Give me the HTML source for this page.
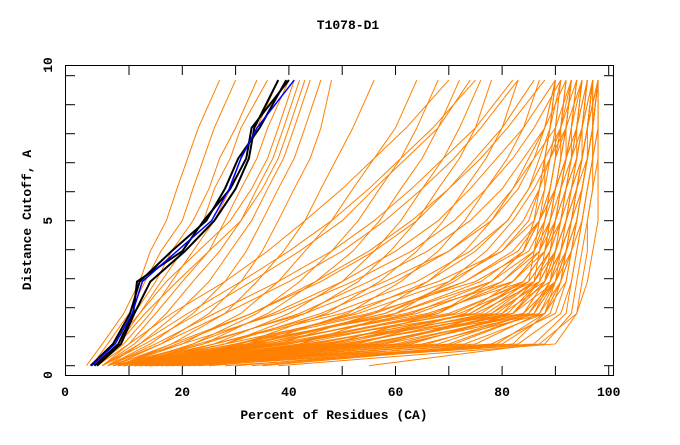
<!DOCTYPE html>
<html><head><meta charset="utf-8"><style>
body{margin:0;background:#fff;}
svg text{font-family:"Liberation Mono",monospace;font-weight:bold;font-size:13px;fill:#000;}
</style></head><body>
<svg id="chart" width="680" height="440" xmlns="http://www.w3.org/2000/svg">
<text x="348" y="29" text-anchor="middle">T1078-D1</text>
<text x="334" y="419" text-anchor="middle">Percent of Residues (CA)</text>
<text x="0" y="0" text-anchor="middle" transform="translate(31,220) rotate(-90)">Distance Cutoff, A</text>
<g id="series"></g>
<g id="axes"></g>
</svg>
<script>
const levels = [0,0.75,1.8,2.9,3.95,5,6.1,7.15,8.2,9.85];
const orangeModels = [
[2,5,9,12,14,17,19,21,23,27],[3,6,10,13,16,20,22,24,26,30],[3,7,11,15,18,22,25,27,30,34],
[4,8,12,16,20,24,26,29,31,36],[4,9,14,18,22,26,29,31,34,38],[5,10,15,20,25,28,31,34,36,40],
[5,11,17,22,27,31,34,37,39,42],[6,12,19,25,29,33,36,39,41,44],[6,14,22,28,32,35,38,41,43,46],
[7,16,25,31,35,38,41,44,46,48],[8,18,28,34,39,43,46,49,52,56],[8,20,31,38,43,48,52,56,60,64],
[9,22,34,42,48,53,57,61,64,68],[9,24,36,45,52,57,61,65,68,72],[10,26,40,50,56,61,65,69,72,76],
[10,28,43,53,59,64,68,72,75,78],[11,31,47,57,64,69,73,77,80,83],[11,34,51,61,68,73,77,81,84,87],
[12,38,56,66,73,78,82,85,88,90],[12,42,60,70,77,82,86,89,91,93],[13,48,68,78,84,87,90,92,94,95],
[13,53,73,82,87,90,92,94,95,96],[14,58,78,86,90,92,94,95,96,97],[14,63,82,88,91,93,94,96,97,97],
[15,68,85,90,92,93,95,96,97,98],[16,73,88,91,93,94,95,96,97,98],[18,78,90,92,93,94,95,96,97,98],
[20,83,91,93,94,95,96,97,97,98],[23,86,92,93,94,95,96,97,98,98],[28,88,93,94,95,96,97,97,98,98],
[38,90,94,95,96,96,97,98,98,98],[55,87,94,96,97,98,98,98,98,98],
[10,38,76,85,86,87,88,88,89,90],[11,43,80,86,87,88,89,90,90,91],[12,46,82,87,88,89,90,91,91,92],
[13,50,84,88,89,90,91,92,92,93],[14,54,85,89,90,91,92,93,93,94],[16,58,86,90,91,92,93,94,94,95],
[17,61,87,91,92,93,94,95,95,96],[19,65,88,92,93,94,95,96,96,97],[9,30,53,70,80,85,87,88,89,90],
[10,36,63,78,84,86,87,88,89,90],[7,23,43,58,70,78,83,86,88,90],[8,26,48,64,74,81,85,87,89,91],
[4,10,18,28,36,43,50,56,62,70],[5,13,23,33,42,50,56,62,68,74],[7,18,33,46,56,64,70,75,80,86],
[6,15,26,38,48,56,63,69,75,82],[3,8,13,19,25,31,35,38,40,43],[4,7,12,17,23,29,33,36,38,41],
[8,33,58,73,82,87,90,92,94,96],[9,40,68,80,86,89,91,93,95,97],[11,48,74,84,88,91,93,95,96,97],
[15,56,81,87,90,92,94,95,96,98],[21,70,86,90,92,93,94,95,96,97],[33,80,89,91,93,94,95,96,97,98],
[8,30,62,82,88,90,91,92,93,94],[9,34,66,84,88,89,90,91,92,93],[10,37,70,85,89,90,91,92,93,94],
[11,40,72,86,89,91,92,93,94,95],[12,44,75,87,90,92,93,94,95,96],[13,47,78,88,91,93,94,95,96,97],
[14,51,80,89,92,94,95,96,97,97],[15,55,82,90,93,95,96,97,97,98],[17,60,84,90,92,94,95,96,97,98],
[6,20,38,52,63,71,77,82,86,91],[7,24,42,55,66,74,80,84,88,92],[8,28,46,60,70,77,82,86,90,93],
[9,32,52,66,75,81,85,88,91,94],[10,35,58,71,79,84,87,89,92,95],[5,12,21,31,40,48,55,61,67,75],
[6,16,28,40,50,58,65,71,76,83],[8,19,33,45,55,63,70,76,81,88],[9,22,37,50,60,68,74,79,84,90],
[7,28,55,75,85,88,89,90,91,92],[8,32,60,78,86,88,90,91,92,93],[9,36,64,80,87,89,90,91,92,93],
[10,39,67,82,87,89,90,92,93,94],[11,42,71,84,88,90,91,92,93,95],[12,45,74,85,89,90,92,93,94,95],
[13,49,77,86,89,91,92,93,94,96],[14,52,79,87,90,91,92,94,95,96],[16,57,82,88,90,92,93,94,95,97],
[18,62,84,88,90,92,93,95,96,97],[20,66,85,89,91,92,94,95,96,97],[22,71,86,89,91,93,94,95,96,98],
[25,75,87,90,92,93,94,95,96,98],[30,79,88,90,92,93,95,96,97,98],[35,82,88,91,92,94,95,96,97,98],
[7,26,50,68,80,86,88,89,90,91],[9,30,56,73,83,87,89,90,91,92],[10,33,60,76,84,87,89,90,92,93]
];
const blueModel = [3,7.4,10.6,12.5,19,25.5,28.8,31,34,41];
const blackModels = [
[3.5,8,10.8,11.5,20,24,29,32,33,40],[4,8.5,11,14,20.5,26,30,32.5,33.5,38],[2.8,7,10.2,12,18,24.5,28,30.5,34.5,39.5]
];
const xTicks = [0,20,40,60,80,100];
const yTicks = [0,5,10];

const X0=75.7, XU=5.33, Y0=365.7, YU=29;
const sx = v => X0 + v*XU;
const sy = v => Y0 - v*YU;
const NS="http://www.w3.org/2000/svg";
const g=document.getElementById('series');
function drawLine(arr,color,w,name){
  const p=document.createElementNS(NS,'polyline');
  p.setAttribute('points',arr.map((x,i)=>sx(x)+','+sy(levels[i])).join(' '));
  p.setAttribute('fill','none');p.setAttribute('stroke',color);p.setAttribute('stroke-width',w);
  
  
  g.appendChild(p);
}
orangeModels.forEach(m=>drawLine(m,'#ff8000',1,'model-line'));
blackModels.forEach(m=>drawLine(m,'#000',2,'reference-model-line'));
drawLine(blueModel,'#0000ff',1.5,'target-model-line');

const ax=document.getElementById('axes');
function el(tag,attrs,txt){const e=document.createElementNS(NS,tag);for(const k in attrs)e.setAttribute(k,attrs[k]);if(txt!==undefined)e.textContent=txt;ax.appendChild(e);return e;}
const frame=el('rect',{x:65.5,y:65.5,width:548,height:310,fill:'none',stroke:'#000','stroke-width':1});


for(let i=1;i<=10;i++){
  const x=sx(i*10);
  const t=el('line',{x1:x,x2:x,y1:375,y2:366,stroke:'#000'});
  
  
  const t2=el('line',{x1:x,x2:x,y1:66,y2:75,stroke:'#000'});
  
  
}
for(let i=0;i<=10;i++){
  const y=sy(i);
  const t=el('line',{x1:66,x2:75,y1:y,y2:y,stroke:'#000'});
  
  
  const t2=el('line',{x1:613,x2:604,y1:y,y2:y,stroke:'#000'});
  
  
}
xTicks.forEach(v=>{
  const t=el('text',{x:(v===0?65:sx(v)),y:396,'text-anchor':'middle'},String(v));
  
  
});
yTicks.forEach(v=>{
  const yy = v===0?375:(v===10?65:sy(v));
  const t=el('text',{x:0,y:0,'text-anchor':'middle',transform:'translate(52,'+yy+') rotate(-90)'},String(v));
  
  
});
</script>
</body></html>
